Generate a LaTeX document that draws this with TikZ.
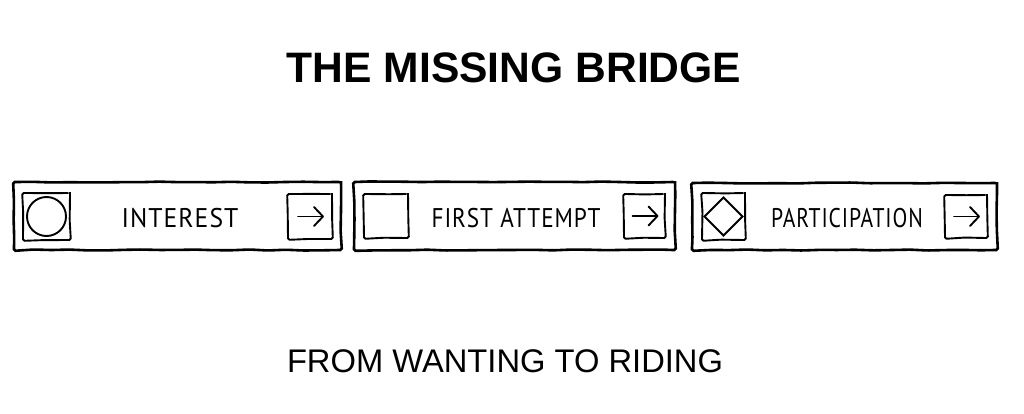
\documentclass[tikz,border=0pt]{standalone}
\usepackage{fontspec}
\setmainfont{Liberation Sans}
\newfontfamily\handfont[LetterSpace=4]{PT Sans}
\usetikzlibrary{decorations.pathmorphing}
\tikzset{
  x=1pt, y=-1pt,
  wobble/.style={decorate, decoration={random steps, segment length=18pt, amplitude=0.5pt}, rounded corners=1.5pt},
  outerbox/.style={draw, line width=2.6pt, inner sep=0pt, wobble},
  iconbox/.style={draw, line width=1.9pt, inner sep=0pt, wobble},
  label/.style={font=\handfont\fontsize{27}{27}\selectfont, anchor=base, inner sep=0pt},
  icon/.style={line width=1.9pt},
  arrowicon/.style={line width=1.9pt, line cap=round, line join=round},
}
\begin{document}
\begin{tikzpicture}
\pgfmathsetseed{7}
\useasboundingbox (0,0) rectangle (1024,414);
\fill[white] (0,0) rectangle (1024,414);

\node[font=\bfseries\fontsize{42.6}{43}\selectfont, anchor=base, inner sep=0pt] (title) at (514,83) {THE MISSING BRIDGE};
\node[font=\fontsize{32.7}{33}\selectfont, anchor=base, inner sep=0pt] (subtitle) at (505,372) {FROM WANTING TO RIDING};

% stage boxes
\node[outerbox, minimum width=327pt, minimum height=68pt] (s1) at (177.5,216) {};
\node[outerbox, minimum width=321pt, minimum height=68pt] (s2) at (514.5,216) {};
\node[outerbox, minimum width=305pt, minimum height=67pt] (s3) at (844.5,216.5) {};

% icon boxes
\node[iconbox, minimum width=47pt, minimum height=47pt] (i1) at (46.5,216.5) {};
\node[iconbox, minimum width=44pt, minimum height=44pt] (i2) at (386,216) {};
\node[iconbox, minimum width=43pt, minimum height=47pt] (i3) at (723.5,216.5) {};

% arrow boxes
\node[iconbox, minimum width=44pt, minimum height=45pt] (a1) at (310,216.5) {};
\node[iconbox, minimum width=41pt, minimum height=44pt] (a2) at (644.5,216) {};
\node[iconbox, minimum width=42pt, minimum height=43pt] (a3) at (966,216.5) {};

% icons
\draw[icon] (i1.center) circle[radius=19.5pt];
\draw[icon] ([yshift=-19pt]i3.center) -- ([xshift=19pt]i3.center) -- ([yshift=19pt]i3.center) -- ([xshift=-19pt]i3.center) -- cycle;
\foreach \a in {a1,a2,a3}{
  \draw[arrowicon] ([xshift=-12pt]\a.center) -- ([xshift=13pt]\a.center);
  \draw[arrowicon] ([xshift=4pt,yshift=-9.5pt]\a.center) -- ([xshift=13pt]\a.center) -- ([xshift=4pt,yshift=9.5pt]\a.center);
}

% labels
\node[label] (t1) at (180,227) {\scalebox{0.95}[1]{INTEREST}};
\node[label] (t2) at (516,227) {\scalebox{0.86}[1]{FIRST ATTEMPT}};
\node[label] (t3) at (847,227) {\scalebox{0.80}[1]{PARTICIPATION}};
\end{tikzpicture}
\end{document}
